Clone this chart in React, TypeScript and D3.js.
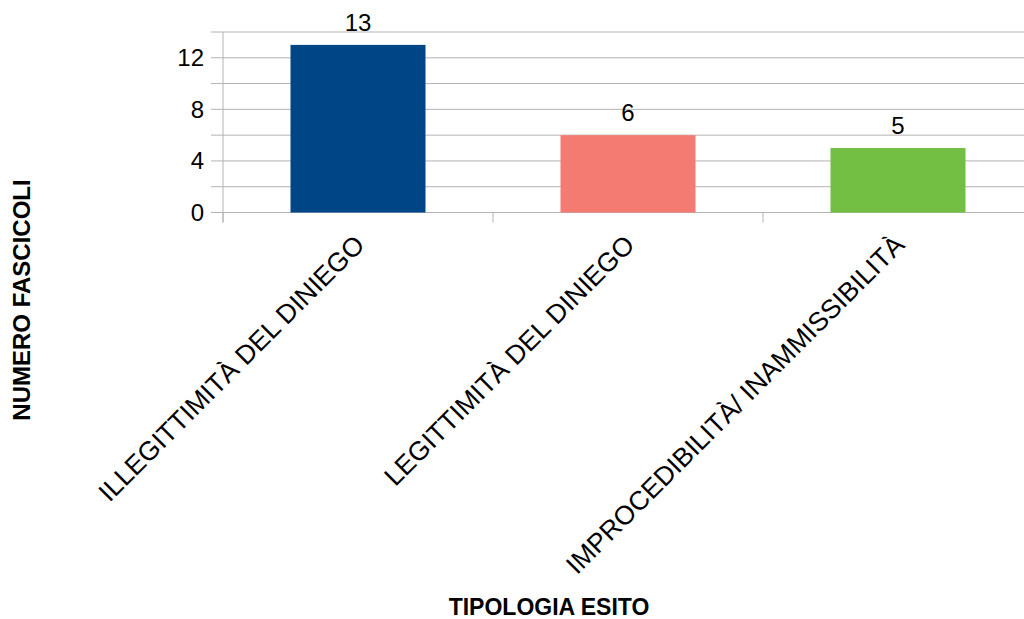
import React from "react";
import * as d3 from "d3";

const categories = ["ILLEGITTIMITÀ DEL DINIEGO", "LEGITTIMITÀ DEL DINIEGO", "IMPROCEDIBILITÀ/ INAMMISSIBILITÀ"];
const values = [13, 6, 5];
const colors = ["#004586", "#f47b72", "#72bf44"];
const yTicks = [0, 4, 8, 12];
const gridValues = [0, 2, 4, 6, 8, 10, 12, 14];
const xTitle = "TIPOLOGIA ESITO";
const yTitle = "NUMERO FASCICOLI";

const W = 1024;
const H = 619;
const left = 223;
const right = 1033;
const top = 32;
const bottom = 212.5;
const font = "'Liberation Sans', Arial, sans-serif";

export default function App() {
  const x = d3.scaleBand<string>().domain(categories).range([left, right]).paddingInner(0.5).paddingOuter(0.25);
  const y = d3.scaleLinear().domain([0, 14]).range([bottom, top]);
  const bounds = d3.range(categories.length + 1).map((i) => left + (i * (right - left)) / categories.length);
  return (
    <svg width={W} height={H} style={{ position: "absolute", left: 0, top: 0, background: "#fff" }}>
      <rect width={W} height={H} fill="#fff" />
      {gridValues.map((g) => (
        <line key={g} x1={left - 12} x2={right} y1={y(g)} y2={y(g)} stroke="#b3b3b3" strokeWidth={1} />
      ))}
      <line x1={left} x2={left} y1={top} y2={bottom + 10} stroke="#b3b3b3" />
      {bounds.map((b, i) => (
        <line key={i} x1={b} x2={b} y1={bottom} y2={bottom + 10} stroke="#b3b3b3" />
      ))}
      {categories.map((c, i) => (
        <g key={c}>
          <rect x={x(c)} y={y(values[i])} width={x.bandwidth()} height={bottom - y(values[i])} fill={colors[i]} />
          <text x={(x(c) as number) + x.bandwidth() / 2} y={y(values[i]) - 14} textAnchor="middle" fontFamily={font} fontSize={24} fill="#000">
            {values[i]}
          </text>
          <text
            transform={`translate(${(x(c) as number) + x.bandwidth() / 2 + 8},${bottom + 34}) rotate(-45)`}
            textAnchor="end"
            fontFamily={font}
            fontSize={26.5}
            fill="#000"
          >
            {c}
          </text>
        </g>
      ))}
      {yTicks.map((t) => (
        <text key={t} x={left - 19} y={y(t)} dy="0.35em" textAnchor="end" fontFamily={font} fontSize={24} fill="#000">
          {t}
        </text>
      ))}
      <text x={549} y={615} textAnchor="middle" fontFamily={font} fontSize={23} fontWeight="bold" fill="#000">
        {xTitle}
      </text>
      <text transform={`translate(30,300) rotate(-90)`} textAnchor="middle" fontFamily={font} fontSize={24} fontWeight="bold" fill="#000">
        {yTitle}
      </text>
    </svg>
  );
}
